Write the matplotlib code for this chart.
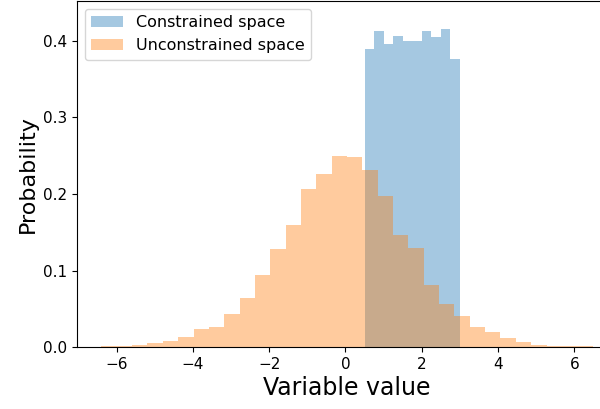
import numpy as np
import matplotlib
matplotlib.use("Agg")
import matplotlib.pyplot as plt

# Histogram densities (bin edges + heights)
constrained_edges = np.linspace(0.5, 3.0, 11)
constrained_density = [0.390, 0.413, 0.396, 0.406, 0.400,
                       0.400, 0.413, 0.405, 0.416, 0.376]

unconstrained_edges = np.linspace(-6.40, 6.48, 33)
unconstrained_density = [0.0017, 0.0017, 0.0035, 0.0057, 0.0083, 0.0135, 0.0235, 0.027,
                         0.044, 0.064, 0.094, 0.128, 0.159, 0.206, 0.226, 0.250,
                         0.249, 0.231, 0.197, 0.147, 0.130, 0.081, 0.057, 0.041,
                         0.027, 0.020, 0.0117, 0.007, 0.0035, 0.002, 0.0017, 0.0017]

fig = plt.figure(figsize=(6.0, 4.09), dpi=100)
ax = fig.add_axes([77 / 600, 61.7 / 409, 540 / 600, 346.3 / 409])

ax.hist(constrained_edges[:-1], bins=constrained_edges, weights=constrained_density,
        alpha=0.4, color="C0", label="Constrained space")
ax.hist(unconstrained_edges[:-1], bins=unconstrained_edges, weights=unconstrained_density,
        alpha=0.4, color="C1", label="Unconstrained space")

ax.set_xlim(-7.04, 7.12)
ax.set_ylim(0, 0.452)
ax.set_xticks([-6, -4, -2, 0, 2, 4, 6])
ax.set_yticks([0.0, 0.1, 0.2, 0.3, 0.4])
ax.tick_params(labelsize=11)
ax.set_xlabel("Variable value", fontsize=17, labelpad=3)
ax.set_ylabel("Probability", fontsize=16)
ax.legend(loc="upper left", fontsize=11.5)

fig.savefig("out.png", dpi=100)
